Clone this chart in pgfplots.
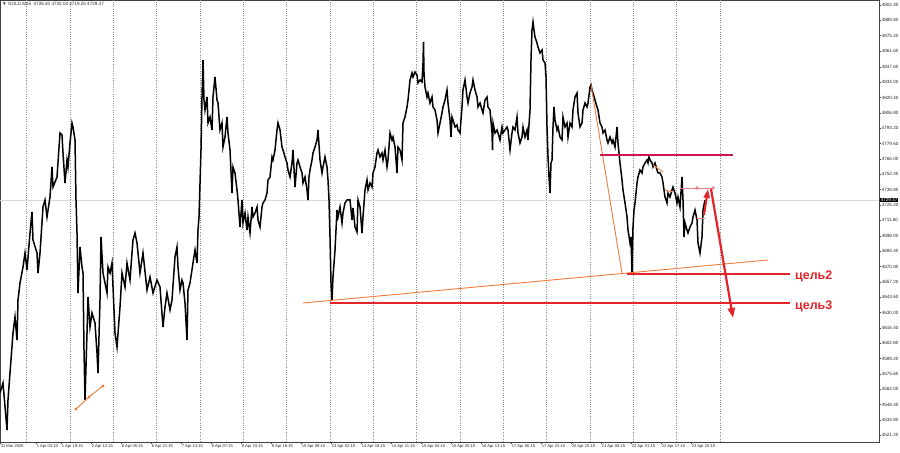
\documentclass[border=0pt]{standalone}
\usepackage{fontspec}
\setmainfont{Liberation Sans}
\usepackage{pgfplots}
\pgfplotsset{compat=1.18}
\usepackage{pgfplotstable}
\usetikzlibrary{arrows.meta}

\definecolor{tgtred}{HTML}{E3242B}
\definecolor{lvlred}{HTML}{C8174A}
\definecolor{trendor}{HTML}{F07A3C}
\definecolor{pinkln}{HTML}{E8808C}

% GOLD M15, x = bar position (px), py = chart row
\pgfplotstableread{
x py
0 393
3 383
7 430
8 400
10 373
13 333
15 317
17 340
18 300
20 283
23 267
25 253
27 270
30 233
32 212
33 240
37 253
38 273
40 253
43 207
45 200
47 217
50 197
52 167
53 187
57 177
60 133
62 135
63 153
65 183
67 160
68 167
70 143
72 123
73 127
75 140
76 200
77 233
78 293
80 247
82 267
83 273
84 350
85 400
87 333
88 297
90 327
92 313
95 323
97 353
98 373
100 300
101 237
103 273
107 293
108 267
110 273
112 263
113 287
115 333
117 347
120 307
122 273
125 287
127 263
130 280
132 253
133 240
135 233
137 243
140 273
143 253
147 290
150 277
153 293
157 280
160 287
163 327
165 307
167 293
170 310
172 300
175 257
177 247
178 267
180 290
182 280
183 283
185 303
187 340
188 290
190 283
193 263
195 250
197 263
198 230
199 217
201 150
202 97
203 60
204 100
205 110
207 97
208 123
210 117
212 130
213 97
215 77
217 100
218 103
220 130
222 123
223 147
225 137
227 117
228 133
230 150
232 193
233 167
235 173
237 190
238 200
240 227
242 200
243 223
245 213
247 230
248 217
250 233
252 207
253 217
255 213
257 207
258 220
260 227
262 207
263 203
265 200
267 193
268 180
270 177
272 157
273 160
275 150
277 130
278 123
280 130
282 147
283 150
285 157
287 163
288 170
290 177
292 163
293 150
295 187
297 163
298 160
300 167
302 173
303 183
305 177
307 190
308 200
309 177
310 170
312 160
313 153
315 147
317 140
318 130
320 160
322 173
323 167
325 157
327 167
328 180
329 200
330 237
331 283
332 300
333 277
335 250
337 210
338 217
340 207
342 223
343 213
345 203
347 200
350 200
352 220
353 208
355 227
357 232
358 200
360 207
362 233
363 217
365 190
367 180
368 190
370 183
372 187
373 173
375 167
377 153
378 150
380 157
382 153
383 160
385 150
387 167
388 160
390 133
392 140
393 137
395 147
397 173
398 147
400 150
402 160
403 123
405 117
407 107
408 100
410 80
412 73
413 77
415 72
417 75
418 83
420 80
422 82
423 63
423.5 42
424 73
425 87
427 97
428 93
430 103
432 97
433 107
435 110
437 120
438 133
440 123
442 113
443 107
445 100
447 90
448 103
450 120
451 137
452 117
453 120
455 127
457 125
458 130
460 133
462 107
463 90
465 80
467 97
468 103
470 93
472 87
473 80
475 90
477 97
478 107
480 103
482 110
483 113
485 100
487 97
488 107
490 110
492 133
492.5 150
493 123
495 133
497 130
498 133
500 140
502 127
503 133
505 130
507 127
508 130
510 150
512 133
513 127
515 130
517 117
518 133
520 143
522 137
523 127
525 137
527 130
528 140
530 110
531 60
532 30
533 22
534 30
535 37
537 43
538 47
540 53
542 50
543 60
545 63
546 77
547 127
548 157
549 177
550 193
551 163
552 160
553 127
554 107
555 120
557 130
558 127
560 137
562 140
563 117
565 127
567 123
568 137
570 123
572 127
573 110
575 97
577 93
578 113
580 127
582 123
583 110
585 103
587 107
588 103
590 87
591 85
592 90
593 93
595 100
597 107
598 110
600 123
602 127
603 133
605 130
607 140
608 143
610 137
612 143
613 140
615 147
617 127
618 143
620 163
622 180
623 190
625 203
627 217
628 230
630 243
631 237
632 273
633 227
634 210
635 203
637 183
638 177
640 170
642 173
643 167
645 163
647 160
648 163
649 157
650 160
652 163
653 167
655 163
657 170
658 173
660 173
662 177
663 183
665 197
667 203
668 193
670 197
672 190
673 187
675 193
677 203
678 197
680 207
682 177
683 200
684 237
685 223
687 230
688 233
690 227
692 223
693 217
695 210
697 220
698 243
700 253
702 237
703 210
705 200
}\gold

\begin{document}
\begin{tikzpicture}
\useasboundingbox (0,0) rectangle (900bp,453bp);
\begin{axis}[
  at={(0,11bp)}, anchor=south west,
  scale only axis, width=879bp, height=442bp,
  xmin=0, xmax=879, ymin=4515.35, ymax=4906.83,
  clip mode=individual,
  axis line style={black!75, line width=0.6bp},
  xtick pos=left, ytick pos=right,
  tick align=outside, major tick length=2bp,
  tick style={black!75, line width=0.5bp},
  ticklabel style={font=\fontsize{4.6}{5}\selectfont, text=black!85},
  xtick={0,36,61,91,121,151,181,211,241,271,301,331,361,391,421,451,481,511,541,571,601,631,661,691},
  xticklabels={31 Mar 2026, 1 Apr 03:15, 1 Apr 19:15, 2 Apr 12:15, 6 Apr 05:15, 6 Apr 21:15, 7 Apr 14:15, 8 Apr 07:15, 8 Apr 23:15, 9 Apr 16:15, 10 Apr 09:15, 13 Apr 02:15, 13 Apr 18:15, 14 Apr 11:15, 15 Apr 04:15, 15 Apr 20:15, 16 Apr 13:15, 17 Apr 06:15, 17 Apr 22:15, 20 Apr 15:15, 21 Apr 08:15, 22 Apr 01:15, 22 Apr 17:15, 23 Apr 10:15},
  xticklabel style={anchor=north west, inner sep=0.6bp, font=\fontsize{4.1}{5}\selectfont},
  extra x ticks={26.7,70,113.3,156.7,200,243.3,286.7,330,373.3,416.7,460,503.3,546.7,590,633.3,676.7,720},
  extra x tick labels={},
  extra x tick style={grid=major, major tick length=0pt},
  major grid style={black!45, line width=0.5bp, dash pattern=on 1bp off 1.3bp},
  ytick={4521.2,4534.8,4548.4,4562,4575.6,4589.2,4602.8,4616.4,4630,4643.6,4657.2,4670.8,4684.4,4698,4711.6,4725.2,4738.8,4752.4,4766,4779.6,4793.2,4806.8,4820.4,4834,4847.6,4861.6,4875.2,4888.8,4902.4},
  yticklabel style={anchor=west, inner sep=0.6bp,
    /pgf/number format/.cd, fixed, fixed zerofill, precision=2, 1000 sep={}, assume math mode=true},
]
% bid line
\addplot[black!15, line width=0.7bp] coordinates {(0,4729.47) (879,4729.47)};

% price
\addplot[black, line width=1.5bp, line join=miter] table[x=x, y expr={4906.83-0.8857*\thisrow{py}}] {\gold};

% orange trend lines
\addplot[trendor, line width=0.9bp] coordinates {(303,4638.46) (768,4676.55)};
\addplot[trendor, line width=0.9bp] coordinates {(591,4831.55) (622,4665.04)};
\addplot[trendor, line width=0.9bp] coordinates {(653,4760.7) (663,4754.5)};
\addplot[trendor, line width=0.9bp] coordinates {(665,4738.5) (673,4736.8)};
\addplot[trendor, line width=0.9bp, mark=*, mark size=1.1bp] coordinates {(76,4544.58) (89,4555.21) (103,4564.95)};

% levels
\addplot[lvlred, line width=2.8bp] coordinates {(600,4769.55) (733,4769.55)};
\addplot[tgtred, line width=2.6bp] coordinates {(627,4664.15) (790,4664.15)};
\addplot[tgtred, line width=2.6bp] coordinates {(330,4638.46) (790,4638.46)};

% pink marker line
\addplot[pinkln, line width=0.9bp, mark=o, mark size=1.3bp, mark indices={2,3}] coordinates {(680,4740.3) (697,4740.3) (713,4740.3)};
\addplot[pinkln, line width=0.8bp] coordinates {(697,4713.75) (705,4713.75)};

% arrows
\addplot[tgtred, line width=2bp, -{Triangle[length=9bp,width=6bp]}] coordinates {(704,4716.4) (708,4739.4)};
\addplot[tgtred, line width=2.2bp, -{Triangle[length=10bp,width=7bp]}] coordinates {(711,4739.4) (733,4625.2)};

\node[anchor=west, text=tgtred, font=\fontsize{12.5}{14}\selectfont\bfseries, inner sep=0pt] at (axis cs:795,4662.4) {цель2};
\node[anchor=west, text=tgtred, font=\fontsize{12.5}{14}\selectfont\bfseries, inner sep=0pt] at (axis cs:795,4635.8) {цель3};

\node[anchor=west, fill=black, text=white, font=\fontsize{4.6}{5}\selectfont, inner sep=0.6bp] at (axis cs:880,4729.47) {4729.47};
\node[anchor=west, text=black!85, font=\fontsize{4.6}{5}\selectfont, inner sep=0pt] at (axis cs:2,4903.3) {▼ GOLD,M15\ \ 4726.20 4732.03 4719.20 4729.47};
\end{axis}
\end{tikzpicture}
\end{document}
